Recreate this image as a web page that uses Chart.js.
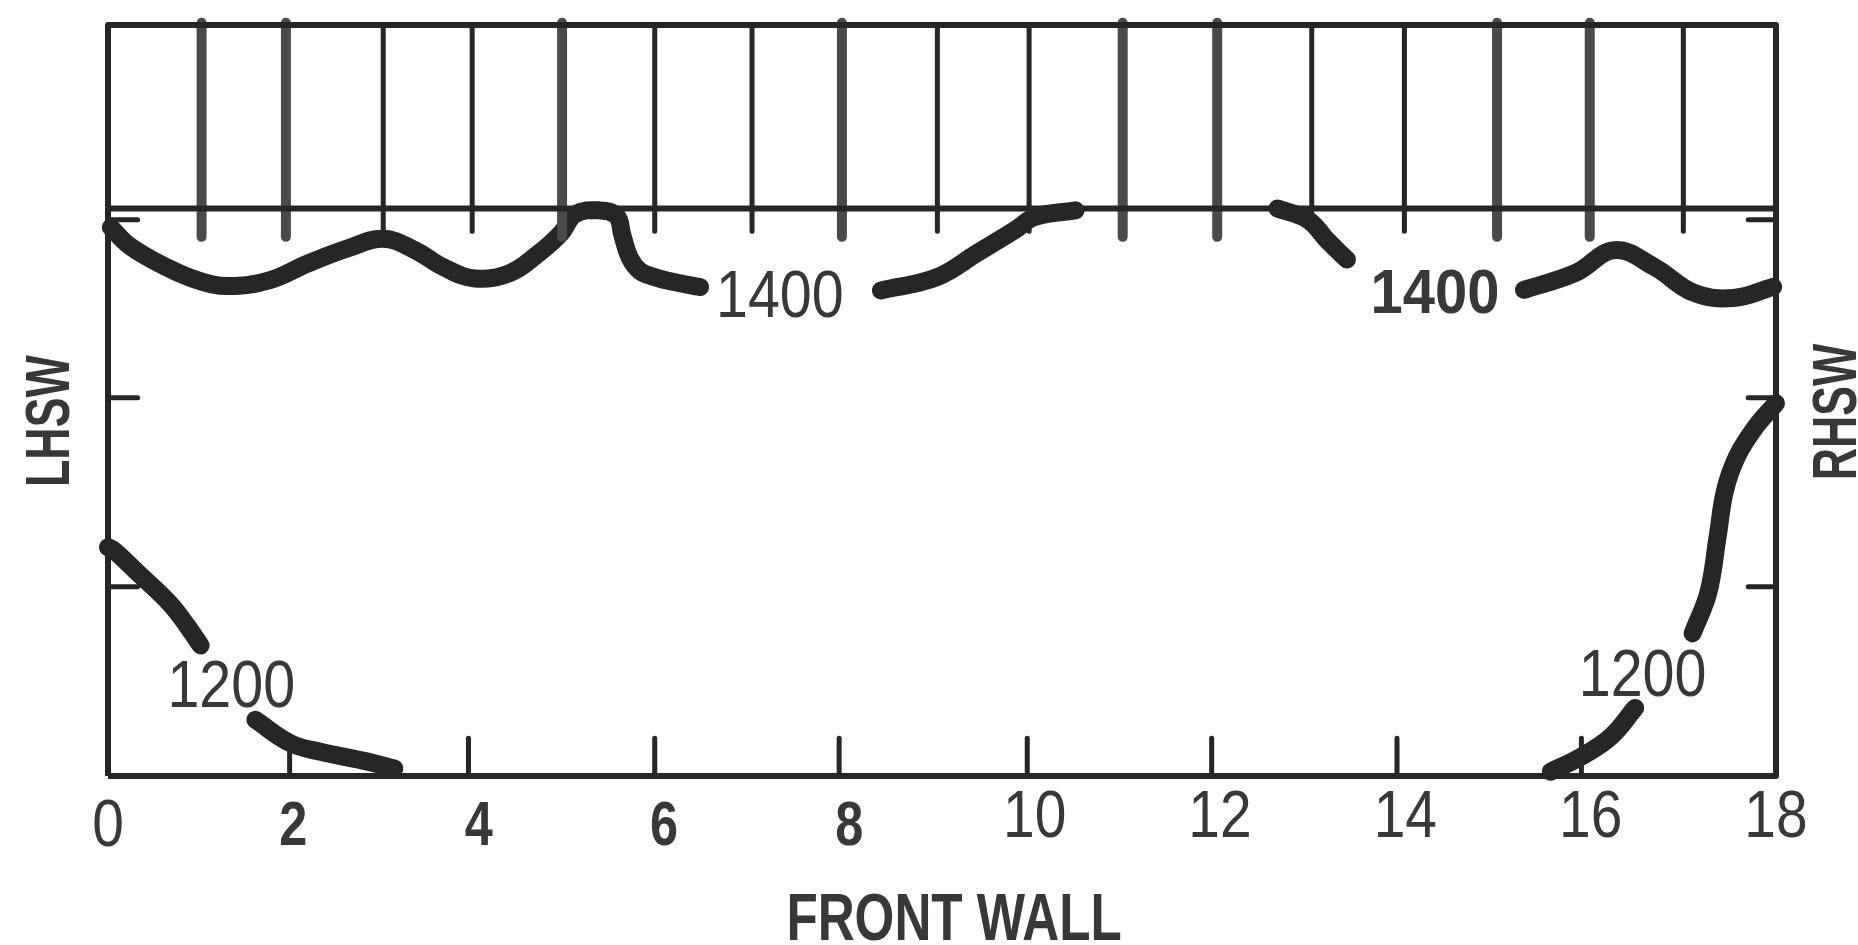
<!DOCTYPE html>
<html>
<head>
<meta charset="utf-8">
<script src="https://cdn.jsdelivr.net/npm/chart.js@4.4.1/dist/chart.umd.min.js"></script>
<style>
  html, body { margin: 0; padding: 0; background: #fff; }
  #wrap { width: 1858px; height: 945px; position: relative; }
</style>
</head>
<body>
<div id="wrap"><canvas id="furnace"></canvas></div>
<script>
// furnace plan view - isotherms between the side walls
const xTicks = [0, 2, 4, 6, 8, 10, 12, 14, 16, 18];
const xBoldTicks = [2, 4, 6, 8];
const roofY = 3;
const bandTop = 3.97;

// tube rows in the top band (some were retouched on the scan)
const tubePlainX = [2.97, 3.93, 5.90, 6.95, 8.95, 9.94, 12.99, 13.99, 17.0];
const tubeRetouchedX = [1.01, 1.92, 4.90, 7.92, 10.95, 11.97, 14.99, 15.99];

const frontTickX = [1.96, 3.89, 5.90, 7.89, 9.92, 11.91, 13.91, 15.90];
const sideTickY = [1, 2, 2.94];

// isotherm traces [x, y]
const iso1400a = [[0.03, 2.90], [0.24, 2.80], [0.63, 2.69], [0.97, 2.62], [1.29, 2.59], [1.74, 2.62],
  [2.16, 2.71], [2.59, 2.79], [2.97, 2.84], [3.31, 2.78], [3.62, 2.69], [3.96, 2.63], [4.34, 2.66],
  [4.64, 2.76], [4.89, 2.87], [5.04, 2.97], [5.31, 2.99], [5.49, 2.96], [5.55, 2.86], [5.63, 2.74],
  [5.74, 2.67], [5.88, 2.64], [6.12, 2.61], [6.39, 2.585]];
const iso1400b = [[8.34, 2.567], [8.94, 2.636], [9.38, 2.765], [9.79, 2.887], [10.0, 2.955], [10.44, 2.99]];
const iso1400c = [[12.62, 3.0], [12.95, 2.94], [13.16, 2.83], [13.37, 2.73]];
const iso1400d = [[15.28, 2.57], [15.84, 2.66], [16.26, 2.78], [16.69, 2.69], [17.11, 2.555],
  [17.54, 2.527], [17.97, 2.586]];
const iso1200a = [[0.0, 1.21], [0.07, 1.19], [0.33, 1.07], [0.67, 0.91], [0.86, 0.79], [1.0, 0.69]];
const iso1200b = [[1.59, 0.297], [1.97, 0.173], [2.29, 0.128], [2.80, 0.076], [3.09, 0.04]];
const iso1200c = [[15.57, 0.023], [15.90, 0.103], [16.22, 0.209], [16.48, 0.36]];
const iso1200d = [[17.10, 0.754], [17.27, 0.97], [17.37, 1.265], [17.45, 1.51], [17.58, 1.69],
  [17.78, 1.846], [18.0, 1.97]];

const labelText = ['1400', '1400', '1200', '1200'];
const labelX = [7.25, 14.32, 1.33, 16.56];
const labelY = [2.55, 2.566, 0.489, 0.547];
const labelBold = [false, true, false, false];

const ink = '#262626';
const textInk = '#383838';
const face = "'Liberation Sans', Arial, sans-serif";

function pts(arr) {
  return arr.map(p => ({x: p[0], y: p[1]}));
}

function seg(data, color, width, cap) {
  return {
    data: data,
    showLine: true,
    borderColor: color,
    borderWidth: width,
    borderCapStyle: cap || 'butt',
    borderJoinStyle: 'round',
    pointRadius: 0,
    fill: false,
    clip: false,
    tension: 0
  };
}

var datasets = [];

// frame + roof line
datasets.push(seg([{x: 0, y: 0}, {x: 0, y: bandTop}, {x: 18, y: bandTop}, {x: 18, y: 0}, {x: 0, y: 0}], ink, 6));
datasets.push(seg([{x: 0, y: roofY}, {x: 18, y: roofY}], ink, 6));

tubePlainX.forEach(v => {
  datasets.push(seg([{x: v, y: bandTop}, {x: v, y: 2.88}], ink, 5, 'round'));
});
tubeRetouchedX.forEach(v => {
  datasets.push(seg([{x: v, y: bandTop + 0.012}, {x: v, y: 2.85}], '#4a4a4a', 10));
});
frontTickX.forEach(v => {
  datasets.push(seg([{x: v, y: 0}, {x: v, y: 0.2}], ink, 5, 'round'));
});
sideTickY.forEach(v => {
  datasets.push(seg([{x: 0, y: v}, {x: 0.32, y: v}], ink, 5, 'round'));
  datasets.push(seg([{x: 18, y: v}, {x: 17.7, y: v}], ink, 5, 'round'));
});

[iso1400a, iso1400b, iso1400c, iso1400d, iso1200a, iso1200b, iso1200c, iso1200d].forEach(c => {
  var d = seg(pts(c), ink, 18, 'round');
  d.tension = 0.4;
  datasets.push(d);
});

// text squeezed horizontally, (px, py) = centre of the caps
function squeezed(ctx, t, px, py, size, bold, sx, rot) {
  ctx.save();
  ctx.translate(px, py);
  if (rot) ctx.rotate(rot);
  ctx.scale(sx, 1);
  ctx.font = (bold ? 'bold ' : '') + size + 'px ' + face;
  ctx.textAlign = 'center';
  ctx.textBaseline = 'alphabetic';
  ctx.fillText(t, 0, size * 0.358);
  ctx.restore();
}

const notes = {
  id: 'notes',
  afterDatasetsDraw(chart) {
    const {ctx, chartArea: a, scales: {x, y}} = chart;
    ctx.save();
    ctx.fillStyle = textInk;

    // front wall tick labels from the x scale
    x.ticks.forEach(t => {
      const px = x.getPixelForValue(t.value);
      if (xBoldTicks.includes(t.value)) squeezed(ctx, String(t.value), px, a.bottom + 46, 63, true, 0.8);
      else squeezed(ctx, String(t.value), px, a.bottom + (t.value === 0 ? 46 : 37), 67, false, 0.85);
    });

    labelText.forEach((t, i) => {
      squeezed(ctx, t, x.getPixelForValue(labelX[i]), y.getPixelForValue(labelY[i]),
        labelBold[i] ? 63 : 66, labelBold[i], labelBold[i] ? 0.92 : 0.87);
    });

    squeezed(ctx, 'FRONT WALL', x.getPixelForValue(9.13), a.bottom + 140, 66, true, 0.775);
    squeezed(ctx, 'LHSW', a.left - 62, y.getPixelForValue(1.876), 63, true, 0.71, -Math.PI / 2);
    squeezed(ctx, 'RHSW', a.right + 57, y.getPixelForValue(1.924), 63, true, 0.71, -Math.PI / 2);
    ctx.restore();
  }
};

new Chart(document.getElementById('furnace'), {
  type: 'scatter',
  data: {datasets: datasets},
  options: {
    responsive: true,
    maintainAspectRatio: false,
    animation: false,
    layout: {padding: {left: 108, right: 82, top: 25, bottom: 0}},
    plugins: {legend: {display: false}, tooltip: {enabled: false}},
    scales: {
      x: {
        type: 'linear',
        min: 0,
        max: 18,
        position: 'bottom',
        grid: {display: false},
        border: {display: false},
        afterBuildTicks: (s) => { s.ticks = xTicks.map(v => ({value: v})); },
        afterFit: (s) => { s.height = 169; },
        ticks: {display: false, autoSkip: false}
      },
      y: {type: 'linear', min: 0, max: bandTop, display: false}
    }
  },
  plugins: [notes]
});
</script>
</body>
</html>
